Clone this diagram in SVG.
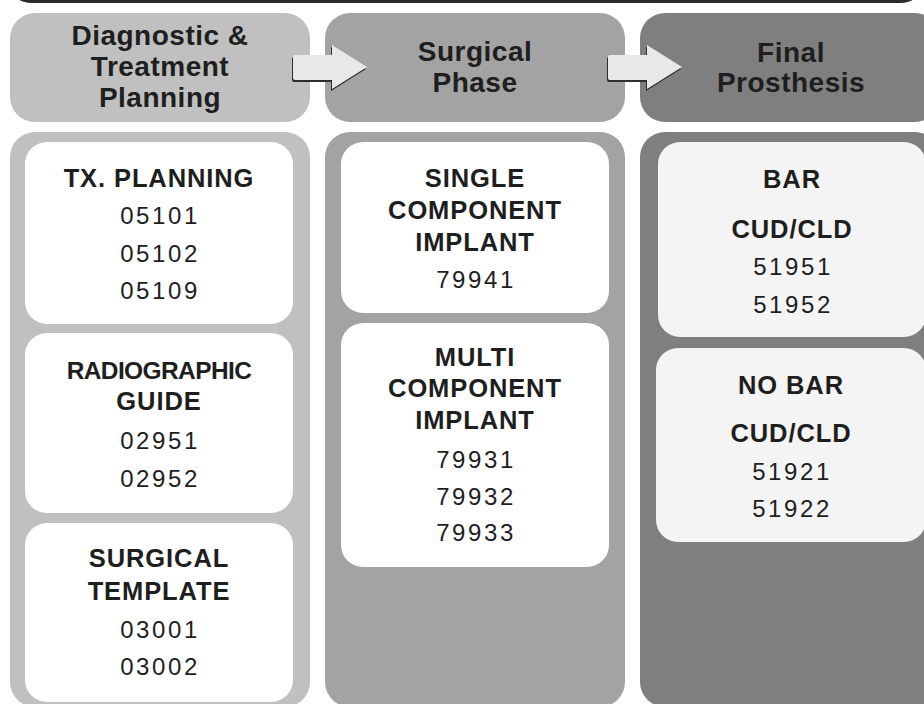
<svg xmlns="http://www.w3.org/2000/svg" width="924" height="704" viewBox="0 0 924 704">
<style>
.hd{font-family:"Liberation Sans",Arial,sans-serif;font-weight:bold;font-size:28px;letter-spacing:0.5px;fill:#1e1e1e;text-anchor:middle}
.tb{font-family:"Liberation Sans",Arial,sans-serif;font-weight:bold;font-size:25.5px;letter-spacing:0.9px;fill:#1e1e1e;text-anchor:middle}
.tn{font-family:"Liberation Sans",Arial,sans-serif;font-size:24px;letter-spacing:2.6px;fill:#1e1e1e;text-anchor:middle}
.box{fill:#ffffff}
.box3{fill:#f4f4f4}
.arr{fill:#e8e8e8}
.arrs{fill:#2e2e2e}
</style>
<rect x="0" y="0" width="924" height="704" fill="#ffffff"/>
<rect x="10" y="-30" width="912" height="33" rx="22" fill="#2a2a2a"/>

<g id="header-diagnostic">
<rect x="10" y="13" width="300" height="109" rx="25" fill="#c0c0c0"/>
<text class="hd" x="160" y="45">Diagnostic &amp;</text>
<text class="hd" x="160" y="76">Treatment</text>
<text class="hd" x="160" y="107">Planning</text>
</g>
<g id="header-surgical">
<rect x="325" y="13" width="300" height="109" rx="25" fill="#a3a3a3"/>
<text class="hd" x="475" y="61">Surgical</text>
<text class="hd" x="475" y="92">Phase</text>
</g>
<g id="header-final">
<rect x="640" y="13" width="300" height="109" rx="25" fill="#7f7f7f"/>
<text class="hd" x="791" y="62">Final</text>
<text class="hd" x="791" y="92">Prosthesis</text>
</g>

<g id="panel-diagnostic">
<rect x="10" y="132" width="300" height="575" rx="25" fill="#c0c0c0"/>
</g>
<g id="panel-surgical">
<rect x="325" y="132" width="300" height="575" rx="25" fill="#a3a3a3"/>
</g>
<g id="panel-final">
<rect x="640" y="132" width="300" height="575" rx="25" fill="#7f7f7f"/>
</g>

<g id="node-tx-planning">
<rect class="box" x="25" y="142" width="268" height="182" rx="22"/>
<text class="tb" x="159" y="187">TX. PLANNING</text>
<text class="tn" x="160" y="224">05101</text>
<text class="tn" x="160" y="262">05102</text>
<text class="tn" x="160" y="299">05109</text>
</g>
<g id="node-radiographic-guide">
<rect class="box" x="25" y="333" width="268" height="180" rx="22"/>
<text class="tb" x="159" y="379" style="font-size:24.5px;letter-spacing:-0.6px">RADIOGRAPHIC</text>
<text class="tb" x="159" y="410">GUIDE</text>
<text class="tn" x="160" y="449">02951</text>
<text class="tn" x="160" y="487">02952</text>
</g>
<g id="node-surgical-template">
<rect class="box" x="25" y="523" width="268" height="179" rx="22"/>
<text class="tb" x="159" y="567">SURGICAL</text>
<text class="tb" x="159" y="600">TEMPLATE</text>
<text class="tn" x="160" y="638">03001</text>
<text class="tn" x="160" y="675">03002</text>
</g>

<g id="node-single-component">
<rect class="box" x="341" y="142" width="268" height="171" rx="22"/>
<text class="tb" x="475" y="187">SINGLE</text>
<text class="tb" x="475" y="219">COMPONENT</text>
<text class="tb" x="475" y="251">IMPLANT</text>
<text class="tn" x="476" y="288">79941</text>
</g>
<g id="node-multi-component">
<rect class="box" x="341" y="323" width="268" height="244" rx="22"/>
<text class="tb" x="475" y="366">MULTI</text>
<text class="tb" x="475" y="397">COMPONENT</text>
<text class="tb" x="475" y="429">IMPLANT</text>
<text class="tn" x="476" y="468">79931</text>
<text class="tn" x="476" y="505">79932</text>
<text class="tn" x="476" y="541">79933</text>
</g>

<g id="node-bar">
<rect class="box3" x="658" y="142" width="268" height="195" rx="22"/>
<text class="tb" x="792" y="188">BAR</text>
<text class="tb" x="792" y="238">CUD/CLD</text>
<text class="tn" x="793" y="275">51951</text>
<text class="tn" x="793" y="313">51952</text>
</g>
<g id="node-no-bar">
<rect class="box3" x="656" y="348" width="270" height="194" rx="22"/>
<text class="tb" x="791" y="394">NO BAR</text>
<text class="tb" x="791" y="442">CUD/CLD</text>
<text class="tn" x="792" y="480">51921</text>
<text class="tn" x="792" y="517">51922</text>
</g>

<defs>
<path id="arrowShape" d="M0,2 Q0,0 2,0 L39,0 L39,-10 L74,12 L39,34 L39,25 L2,25 Q0,25 0,23 Z"/>
</defs>
<g id="connectors">
<use href="#arrowShape" class="arrs" x="292" y="57"/>
<use href="#arrowShape" class="arr" x="293" y="55"/>
<use href="#arrowShape" class="arrs" x="607" y="57"/>
<use href="#arrowShape" class="arr" x="608" y="55"/>
</g>
</svg>
